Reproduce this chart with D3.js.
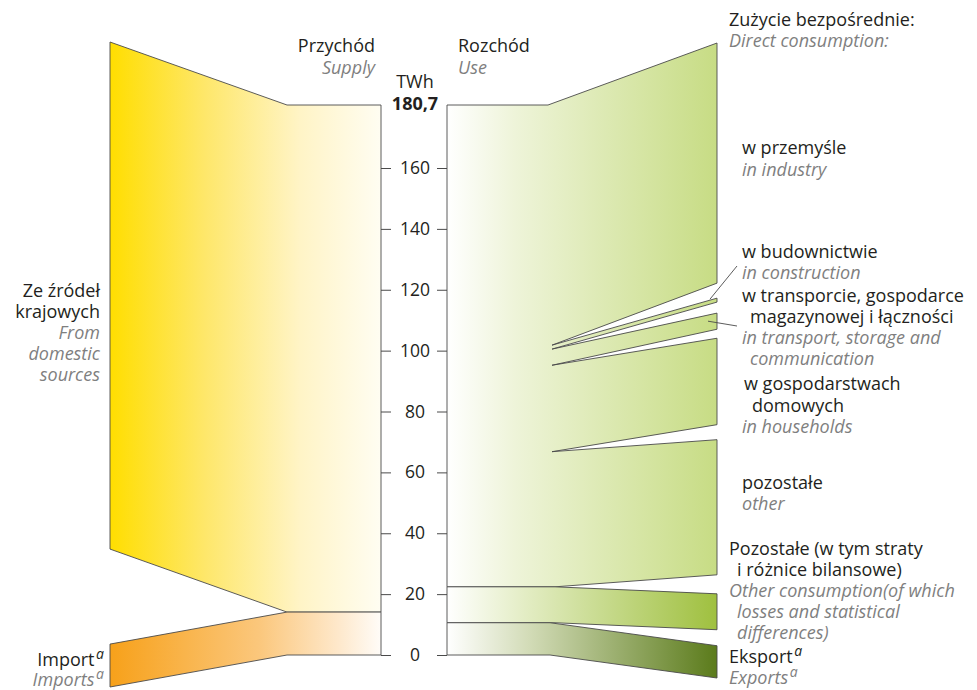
<!DOCTYPE html>
<html>
<head>
<meta charset="utf-8">
<script src="https://cdn.jsdelivr.net/npm/d3@7"></script>
<style>
  body { margin: 0; background: #fff; }
  svg text { font-family: "Open Sans", "Noto Sans", sans-serif; }
</style>
</head>
<body>
<svg id="chart"></svg>
<script>
const width = 977;
const height = 690;

// data (TWh)
const total = 180.7;
const supplyKeys = ["domestic", "import"];
const supplyValues = [166.6, 14.1];
const useKeys = ["direct", "otherUse", "export"];
const useValues = [158.3, 11.8, 10.6];
const directKeys = ["industry", "construction", "transport", "households", "other"];
const directValues = [78.9, 1.3, 5.3, 28.4, 44.4];
const tickValues = [0, 20, 40, 60, 80, 100, 120, 140, 160];

const svg = d3.select("#chart")
    .attr("width", width)
    .attr("height", height);

const y = d3.scaleLinear().domain([0, total]).range([655, 105]);
const h = v => y(0) - y(v);

// layout
const leftX = 110, supplyBend = 287, axisL = 381, axisR = 447, useBend = 552, rightX = 717;
const ink = "#231f20", grey = "#7f7f7f", edge = "#4a4a4a";

const defs = svg.append("defs");
function grad(id, x1, x2, stops) {
    const g = defs.append("linearGradient").attr("id", id)
        .attr("gradientUnits", "userSpaceOnUse")
        .attr("x1", x1).attr("x2", x2).attr("y1", 0).attr("y2", 0);
    stops.forEach(s => g.append("stop").attr("offset", s[0]).attr("stop-color", s[1]));
}
grad("gDomestic", leftX, axisL, [[0, "#ffde00"], [0.35, "#fee76a"], [0.7, "#fff4c6"], [1, "#fffdf2"]]);
grad("gImport", leftX, axisL, [[0, "#f7a11a"], [0.55, "#fbc77c"], [0.85, "#fee9cd"], [1, "#fffcf8"]]);
grad("gDirect", axisR, rightX, [[0, "#ffffff"], [0.25, "#eef4d9"], [1, "#c7dc84"]]);
grad("gOtherUse", axisR, rightX, [[0, "#ffffff"], [0.3, "#e2ecc2"], [1, "#9fc03f"]]);
grad("gExport", axisR, rightX, [[0, "#ffffff"], [0.3, "#d3dcb8"], [1, "#5b7b1b"]]);

const line = d3.line();
function band(points, fill) {
    svg.append("path")
        .attr("d", line(points) + "Z")
        .attr("fill", fill)
        .attr("stroke", edge)
        .attr("stroke-width", 0.9)
        .attr("stroke-linejoin", "miter");
}

// supply side
const supplyTop = [total, total - supplyValues[0]];
const leftTop = [y(total) - 63, y(total) - 63 + h(supplyValues[0]) + 95];
const supplyFill = ["url(#gDomestic)", "url(#gImport)"];
supplyValues.forEach((v, i) => {
    const a0 = y(supplyTop[i]), a1 = a0 + h(v);
    const l0 = leftTop[i], l1 = l0 + h(v);
    band([[leftX, l0], [supplyBend, a0], [axisL, a0], [axisL, a1], [supplyBend, a1], [leftX, l1]], supplyFill[i]);
});

// use side: right column stacked with gaps
const rightGaps = [15, 11, 9, 15, 19, 16];
const rightValues = directValues.concat(useValues.slice(1));
const rightTops = [];
let cur = 43;
rightValues.forEach((v, i) => {
    rightTops.push(cur);
    cur += h(v) + (rightGaps[i] || 0);
});

// direct consumption fan
{
    const top = y(total), bot = top + h(useValues[0]);
    const pts = [[axisR, top], [useBend - 4, top]];
    let acc = top;
    directValues.forEach((v, i) => {
        if (i > 0) pts.push([useBend, acc]);
        pts.push([rightX, rightTops[i]]);
        pts.push([rightX, rightTops[i] + h(v)]);
        acc += h(v);
    });
    pts.push([useBend + 3, bot], [axisR, bot]);
    band(pts, "url(#gDirect)");
}

// other use and export
const useFill = ["url(#gOtherUse)", "url(#gExport)"];
const bends = [useBend + 3, useBend - 2];
let acc = y(total) + h(useValues[0]);
useValues.slice(1).forEach((v, i) => {
    const a0 = acc, a1 = acc + h(v);
    const r0 = rightTops[directValues.length + i], r1 = r0 + h(v);
    band([[axisR, a0], [bends[i], a0], [rightX, r0], [rightX, r1], [bends[i], a1], [axisR, a1]], useFill[i]);
    acc = a1;
});

// axis
const axisLeftG = svg.append("g")
    .attr("transform", `translate(${axisL},0)`)
    .call(d3.axisRight(y).tickValues(tickValues).tickSize(10).tickPadding(0));
axisLeftG.select(".domain").remove();
axisLeftG.selectAll(".tick line").attr("stroke", edge).attr("stroke-width", 1);
axisLeftG.selectAll(".tick text")
    .attr("x", 34)
    .attr("text-anchor", "middle")
    .attr("fill", ink)
    .style("font-size", "17.5px")
    .style("font-family", "'Open Sans', sans-serif");

const axisRightG = svg.append("g")
    .attr("transform", `translate(${axisR},0)`)
    .call(d3.axisLeft(y).tickValues(tickValues).tickSize(10).tickFormat(""));
axisRightG.select(".domain").remove();
axisRightG.selectAll(".tick line").attr("stroke", edge).attr("stroke-width", 1);

// leader lines
svg.append("line").attr("x1", 710).attr("y1", rightTops[1] + 1).attr("x2", 737).attr("y2", 266)
    .attr("stroke", edge).attr("stroke-width", 0.9);
svg.append("line").attr("x1", 708).attr("y1", rightTops[2] + h(directValues[2]) / 2).attr("x2", 737).attr("y2", 326)
    .attr("stroke", edge).attr("stroke-width", 0.9);

// labels: [text, x, y, anchor, style, superscript]
const labels = [
    ["Przychód", 375, 52, "end", "n"],
    ["Supply", 375, 74, "end", "i"],
    ["Rozchód", 458, 52, "start", "n"],
    ["Use", 458, 74, "start", "i"],
    ["TWh", 415, 88, "middle", "n"],
    ["180,7", 415, 110, "middle", "b"],
    ["Zużycie bezpośrednie:", 729, 26, "start", "n"],
    ["Direct consumption:", 729, 47, "start", "i"],
    ["w przemyśle", 742, 154, "start", "n"],
    ["in industry", 742, 176, "start", "i"],
    ["w budownictwie", 742, 258, "start", "n"],
    ["in construction", 742, 279, "start", "i"],
    ["w transporcie, gospodarce", 742, 302, "start", "n"],
    ["magazynowej i łączności", 750, 323, "start", "n"],
    ["in transport, storage and", 742, 344, "start", "i"],
    ["communication", 750, 365, "start", "i"],
    ["w gospodarstwach", 744, 390, "start", "n"],
    ["domowych", 752, 412, "start", "n"],
    ["in households", 742, 433, "start", "i"],
    ["pozostałe", 742, 489, "start", "n"],
    ["other", 742, 510, "start", "i"],
    ["Pozostałe (w tym straty", 729, 555, "start", "n"],
    ["i różnice bilansowe)", 737, 576, "start", "n"],
    ["Other consumption(of which", 729, 597, "start", "i"],
    ["losses and statistical", 737, 618, "start", "i"],
    ["differences)", 737, 639, "start", "i"],
    ["Eksport", 729, 663, "start", "n", "a"],
    ["Exports", 729, 684, "start", "i", "a"],
    ["Ze źródeł", 100, 297, "end", "n"],
    ["krajowych", 100, 318, "end", "n"],
    ["From", 100, 339, "end", "i"],
    ["domestic", 100, 360, "end", "i"],
    ["sources", 100, 381, "end", "i"],
    ["Import", 104, 666, "end", "n", "a"],
    ["Imports", 104, 686, "end", "i", "a"]
];

labels.forEach(d => {
    const t = svg.append("text")
        .attr("x", d[1]).attr("y", d[2])
        .attr("text-anchor", d[3])
        .attr("fill", d[4] === "i" ? grey : ink)
        .style("font-size", "18px")
        .style("font-style", d[4] === "i" ? "italic" : "normal")
        .style("font-weight", d[4] === "b" ? "bold" : "normal");
    t.append("tspan").text(d[0]);
    if (d[5]) {
        t.append("tspan").text(" ").style("font-size", "6px");
        t.append("tspan").text(d[5])
            .attr("dy", -7)
            .style("font-size", "14px")
            .style("font-style", "italic");
    }
});
</script>
</body>
</html>
